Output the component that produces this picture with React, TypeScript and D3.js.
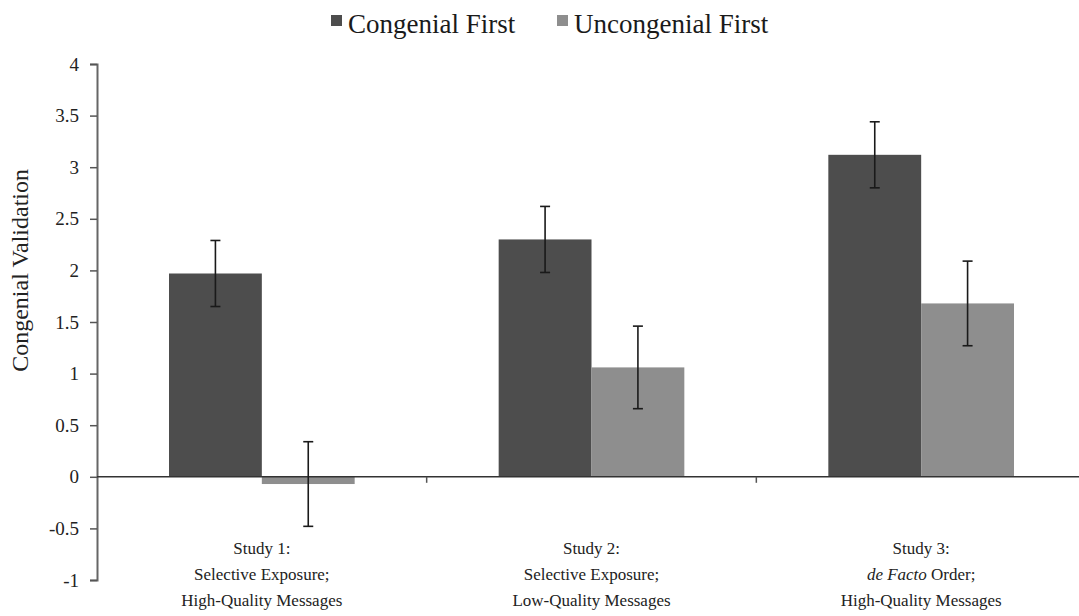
import React, { useEffect, useRef } from 'react';
import * as d3 from 'd3';

const studies = ['Study 1', 'Study 2', 'Study 3'];
const series = ['Congenial First', 'Uncongenial First'];
const congenialFirst = [1.97, 2.3, 3.12];
const uncongenialFirst = [-0.07, 1.06, 1.68];
const congenialErr = [0.32, 0.32, 0.32];
const uncongenialErr = [0.41, 0.4, 0.41];
const yTicks = [-1, -0.5, 0, 0.5, 1, 1.5, 2, 2.5, 3, 3.5, 4];
const colors = ['#4d4d4d', '#8e8e8e'];

// label lines per study; italic parts marked with a flag
const labelLines: { text: string; italic?: boolean }[][][] = [
    [[{ text: 'Study 1:' }], [{ text: 'Selective Exposure;' }], [{ text: 'High-Quality Messages' }]],
    [[{ text: 'Study 2:' }], [{ text: 'Selective Exposure;' }], [{ text: 'Low-Quality Messages' }]],
    [[{ text: 'Study 3:' }], [{ text: 'de Facto', italic: true }, { text: ' Order;' }], [{ text: 'High-Quality Messages' }]],
];

const W = 1079;
const H = 616;
const font = '"Liberation Serif", "Times New Roman", serif';

function App() {
    const ref = useRef<SVGSVGElement>(null);

    useEffect(() => {
        const svg = d3.select(ref.current);
        svg.selectAll('*').remove();

        const left = 97;
        const right = 1086;
        const y = d3.scaleLinear().domain([-1, 4]).range([580, 64]);
        const x0 = d3.scaleBand<string>().domain(studies).range([left, right]);
        const x1 = d3.scaleBand<string>().domain(series).range([72, x0.bandwidth() - 72]);

        const values = [congenialFirst, uncongenialFirst];
        const errs = [congenialErr, uncongenialErr];

        // bars
        series.forEach((s, si) => {
            svg.append('g')
                .selectAll('rect')
                .data(values[si])
                .enter()
                .append('rect')
                .attr('x', (d, i) => (x0(studies[i]) as number) + (x1(s) as number))
                .attr('width', x1.bandwidth())
                .attr('y', d => y(Math.max(0, d)))
                .attr('height', d => Math.abs(y(d) - y(0)))
                .attr('fill', colors[si]);
        });

        // y axis
        const yAxis = svg.append('g')
            .attr('transform', `translate(${left},0)`)
            .call(d3.axisLeft(y).tickValues(yTicks).tickSize(7).tickSizeOuter(7).tickFormat(d => String(d)));
        yAxis.select('.domain').attr('stroke', '#666').attr('stroke-width', 2);
        yAxis.selectAll('.tick line').attr('stroke', '#555').attr('stroke-width', 1.5);
        yAxis.selectAll('.tick text')
            .attr('x', -18)
            .style('font-family', font)
            .style('font-size', '19px')
            .attr('fill', '#222');

        // x axis at zero
        svg.append('line')
            .attr('x1', left).attr('x2', W)
            .attr('y1', y(0)).attr('y2', y(0))
            .attr('stroke', '#333').attr('stroke-width', 1.5);
        studies.slice(1).forEach(st => {
            const xx = x0(st) as number;
            svg.append('line')
                .attr('x1', xx).attr('x2', xx)
                .attr('y1', y(0)).attr('y2', y(0) + 6)
                .attr('stroke', '#555').attr('stroke-width', 1.5);
        });

        // error bars
        series.forEach((s, si) => {
            values[si].forEach((v, i) => {
                const cx = (x0(studies[i]) as number) + (x1(s) as number) + x1.bandwidth() / 2;
                const hi = y(v + errs[si][i]);
                const lo = y(v - errs[si][i]);
                const g = svg.append('g').attr('stroke', '#1a1a1a').attr('stroke-width', 1.6);
                g.append('line').attr('x1', cx).attr('x2', cx).attr('y1', hi).attr('y2', lo);
                g.append('line').attr('x1', cx - 5).attr('x2', cx + 5).attr('y1', hi).attr('y2', hi);
                g.append('line').attr('x1', cx - 5).attr('x2', cx + 5).attr('y1', lo).attr('y2', lo);
            });
        });

        // category labels
        studies.forEach((st, i) => {
            const cx = (x0(st) as number) + x0.bandwidth() / 2;
            labelLines[i].forEach((parts, li) => {
                const t = svg.append('text')
                    .attr('x', cx)
                    .attr('y', 554 + li * 26)
                    .attr('text-anchor', 'middle')
                    .style('font-family', font)
                    .style('font-size', '17px')
                    .attr('fill', '#222');
                parts.forEach(p => {
                    t.append('tspan').text(p.text).style('font-style', p.italic ? 'italic' : 'normal');
                });
            });
        });

        // y axis title
        svg.append('text')
            .attr('transform', `translate(28,${y(2)}) rotate(-90)`)
            .attr('text-anchor', 'middle')
            .style('font-family', font)
            .style('font-size', '24px')
            .attr('fill', '#222')
            .text('Congenial Validation');

        // legend
        const legendX = [331, 557];
        series.forEach((s, si) => {
            svg.append('rect')
                .attr('x', legendX[si]).attr('y', 15)
                .attr('width', 11).attr('height', 11)
                .attr('fill', colors[si]);
            svg.append('text')
                .attr('x', legendX[si] + 17).attr('y', 33)
                .style('font-family', font)
                .style('font-size', '27px')
                .attr('fill', '#1a1a1a')
                .text(s);
        });
    }, []);

    return (
        <svg ref={ref} width={W} height={H} style={{ position: 'absolute', left: 0, top: 0, background: '#fff' }}></svg>
    );
}

export default App;
